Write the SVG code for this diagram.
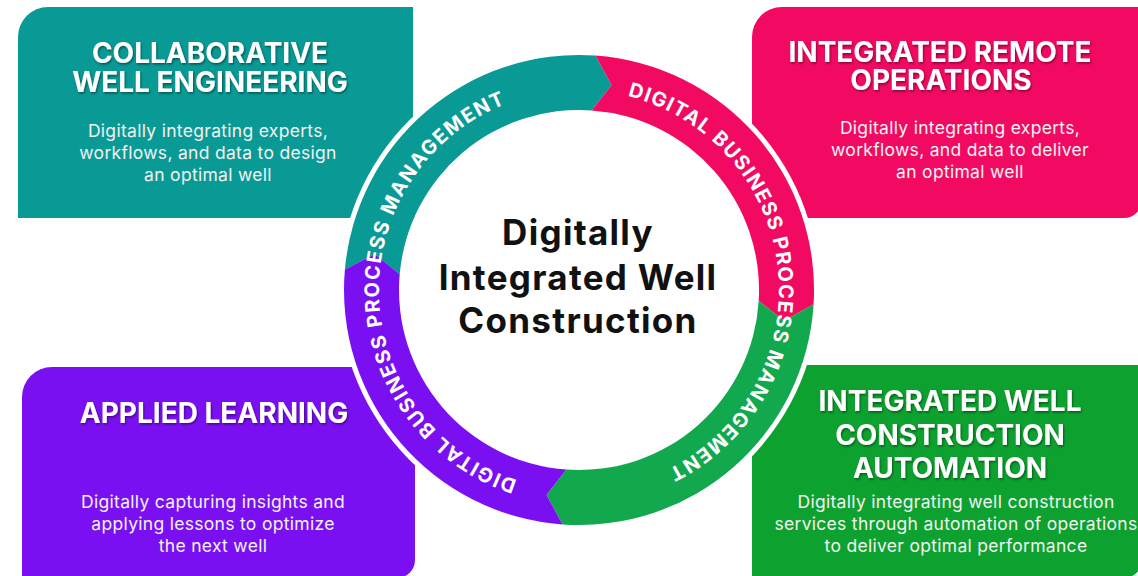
<svg xmlns="http://www.w3.org/2000/svg" width="1138" height="576" viewBox="0 0 1138 576">
<style>
.title{font-family:Inter,"Noto Sans",sans-serif;font-weight:700;font-size:28px;fill:#ffffff;text-anchor:middle;filter:url(#sh)}
.desc{font-family:Inter,"Noto Sans",sans-serif;font-weight:400;font-size:17.5px;letter-spacing:0.3px;fill:#f2f2f2;text-anchor:middle}
.center{font-family:Inter,"Noto Sans",sans-serif;font-weight:700;font-size:35px;letter-spacing:1.3px;fill:#111111;text-anchor:middle}
.ring{font-family:Inter,"Noto Sans",sans-serif;font-weight:700;font-size:20px;fill:#ffffff}
</style>
<defs>
<filter id="sh" x="-10%" y="-30%" width="120%" height="160%">
<feDropShadow dx="1" dy="1.5" stdDeviation="1" flood-color="#000" flood-opacity="0.45"/>
</filter>
<path id="arcL" d="M517.2,480.2 A200,200 0 0 1 507.3,103.3"/>
<path id="arcR" d="M627.4,96 A200,200 0 0 1 666.7,469.8"/>
</defs>
<rect width="1138" height="576" fill="#ffffff"/>

<g id="box-collaborative">
<path d="M48,7 H413 V218 H18 V37 A30,30 0 0 1 48,7 Z" fill="#099a95"/>
<text class="title" x="210" y="63">COLLABORATIVE</text>
<text class="title" x="210" y="92">WELL ENGINEERING</text>
<text class="desc" x="208" y="137">Digitally integrating experts,</text>
<text class="desc" x="208" y="159">workflows, and data to design</text>
<text class="desc" x="208" y="181">an optimal well</text>
</g>

<g id="box-remote">
<path d="M782,7 H1142 V200 A18,18 0 0 1 1124,218 H752 V37 A30,30 0 0 1 782,7 Z" fill="#f20a62"/>
<text class="title" x="940" y="62">INTEGRATED REMOTE</text>
<text class="title" x="941" y="90">OPERATIONS</text>
<text class="desc" x="960" y="134">Digitally integrating experts,</text>
<text class="desc" x="960" y="156">workflows, and data to deliver</text>
<text class="desc" x="960" y="178">an optimal well</text>
</g>

<g id="box-applied">
<path d="M52,367 H415 V560 A18,18 0 0 1 397,578 H22 V397 A30,30 0 0 1 52,367 Z" fill="#7a10f2"/>
<text class="title" x="214" y="423">APPLIED LEARNING</text>
<text class="desc" x="213" y="508">Digitally capturing insights and</text>
<text class="desc" x="213" y="530">applying lessons to optimize</text>
<text class="desc" x="213" y="552">the next well</text>
</g>

<g id="box-automation">
<path d="M752,365 H1142 V560 A18,18 0 0 1 1124,578 H752 Z" fill="#0da22f"/>
<text class="title" x="950" y="411">INTEGRATED WELL</text>
<text class="title" x="950" y="445">CONSTRUCTION</text>
<text class="title" x="950" y="478">AUTOMATION</text>
<text class="desc" x="956" y="508">Digitally integrating well construction</text>
<text class="desc" x="956" y="530">services through automation of operations</text>
<text class="desc" x="956" y="552">to deliver optimal performance</text>
</g>

<g id="cycle">
<circle cx="579" cy="290" r="240" fill="#ffffff"/>
<path d="M344.9,269.5 A235,235 0 0 1 595.4,55.6 L611.5,85.1 L591.6,110.4 A180,180 0 0 0 399.7,274.3 L374.7,254 Z" fill="#099a95"/>
<path d="M595.4,55.6 A235,235 0 0 1 813.6,304.3 L784.2,320.7 L758.7,301 A180,180 0 0 0 591.6,110.4 L611.5,85.1 Z" fill="#f20a62"/>
<path d="M813.6,304.3 A235,235 0 0 1 562.6,524.4 L546.5,494.9 L566.4,469.6 A180,180 0 0 0 758.7,301 L784.2,320.7 Z" fill="#12a84e"/>
<path d="M562.6,524.4 A235,235 0 0 1 344.9,269.5 L374.7,254 L399.7,274.3 A180,180 0 0 0 566.4,469.6 L546.5,494.9 Z" fill="#7a10f2"/>
<text class="ring"><textPath href="#arcL" textLength="490" lengthAdjust="spacing">DIGITAL BUSINESS PROCESS MANAGEMENT</textPath></text>
<text class="ring"><textPath href="#arcR" textLength="487" lengthAdjust="spacing">DIGITAL BUSINESS PROCESS MANAGEMENT</textPath></text>
</g>

<g id="center-title">
<text class="center" x="578" y="245">Digitally</text>
<text class="center" x="578" y="290">Integrated Well</text>
<text class="center" x="578" y="333">Construction</text>
</g>
</svg>
